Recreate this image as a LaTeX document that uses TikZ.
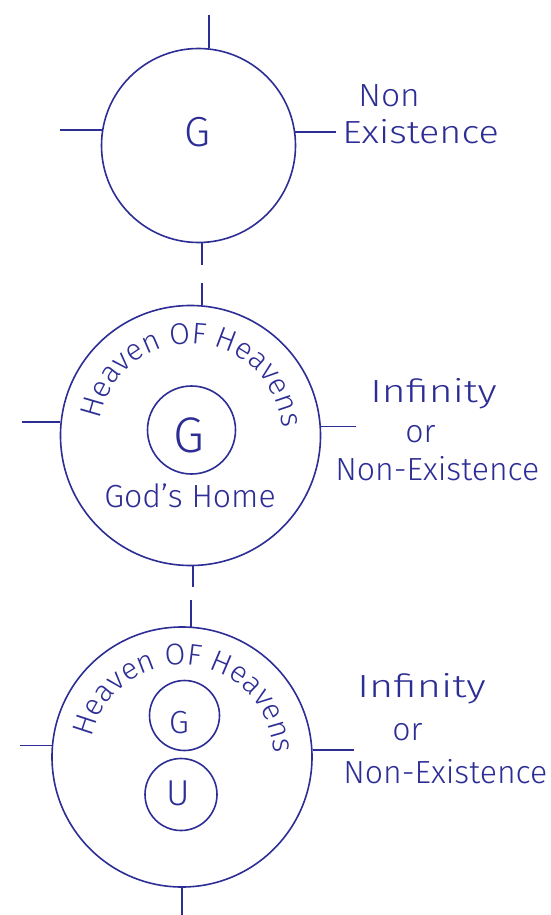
\documentclass[tikz,border=0pt]{standalone}
\usepackage{fontspec}
\setmainfont{Fira Sans Light}
\usetikzlibrary{decorations.text}
\definecolor{ink}{RGB}{45,45,150}
\newcommand\hstretch[2]{\scalebox{#1}[1]{#2}}
\begin{document}
\begin{tikzpicture}[x=0.5pt,y=0.5pt,
  ring/.style={circle,draw=ink,line width=0.8pt,inner sep=0pt,minimum size=#1},
  tick/.style={draw=ink,line width=0.8pt},
  lbl/.style={text=ink,inner sep=0pt,anchor=base,font=\fontsize{#1}{#1}\selectfont},
  side/.style={text=ink,inner sep=0pt,anchor=base west,font=\fontsize{16}{16}\selectfont},
  arctext/.style={decorate,decoration={text along path,text align={fit to path},
     text color=ink,text={|\fontsize{15}{15}\selectfont|Heaven OF Heavens}}}]
\useasboundingbox[fill=white] (0,0) rectangle (551,-915);

% ---- first figure
\node[ring=97pt] (c1) at (198.5,-145.5) {};
\node[lbl=21] (g1) at (197,-147) {G};
\draw[tick] (c1.84.4) -- ++(0,33);
\draw[tick] (c1.272) -- ++(0,-22);
\draw[tick] (c1.171.4) -- ++(-42,0);
\draw[tick] (c1.8.6) -- ++(41,0);
\node[side] (n1a) at (358,-107) {\hstretch{1.05}{Non}};
\node[side] (n1b) at (342,-143) {\hstretch{1.18}{Existence}};

% ---- second figure
\node[ring=130pt] (c2) at (190.5,-435.5) {};
\node[ring=44pt] (c2g) at (191.5,-430) {};
\node[lbl=25] (g2) at (189,-452) {G};
\node[lbl=16] (home) at (190,-507) {God's Home};
\path[arctext] ([shift={(170:92)}]c2.center) arc[start angle=170,end angle=5,radius=92];
\draw[tick] (c2.85.8) -- ++(0,22);
\draw[tick] (c2.271) -- ++(0,-21);
\draw[tick] (c2.174.5) -- ++(-38,0);
\draw[tick] (c2.4.6) -- ++(35,0);
\node[side] (n2a) at (370,-402) {\hstretch{1.28}{Infinity}};
\node[side] (n2b) at (405,-442) {or};
\node[side] (n2c) at (335,-480) {Non-Existence};

% ---- third figure
\node[ring=130pt] (c3) at (182,-757) {};
\node[ring=35pt] (c3g) at (184.5,-715.5) {};
\node[ring=36pt] (c3u) at (181,-794.5) {};
\node[lbl=16] (g3) at (179,-733) {G};
\node[lbl=18] (u3) at (178,-805) {U};
\path[arctext] ([shift={(168:92)}]c3.center) arc[start angle=168,end angle=2,radius=92];
\draw[tick] (c3.86) -- ++(0,27);
\draw[tick] (c3.270) -- ++(0,-28);
\draw[tick] (c3.175) -- ++(-32,0);
\draw[tick] (c3.3.5) -- ++(41,0);
\node[side] (n3a) at (357,-697) {\hstretch{1.3}{Infinity}};
\node[side] (n3b) at (392,-740) {or};
\node[side] (n3c) at (343,-783) {Non-Existence};
\end{tikzpicture}
\end{document}
